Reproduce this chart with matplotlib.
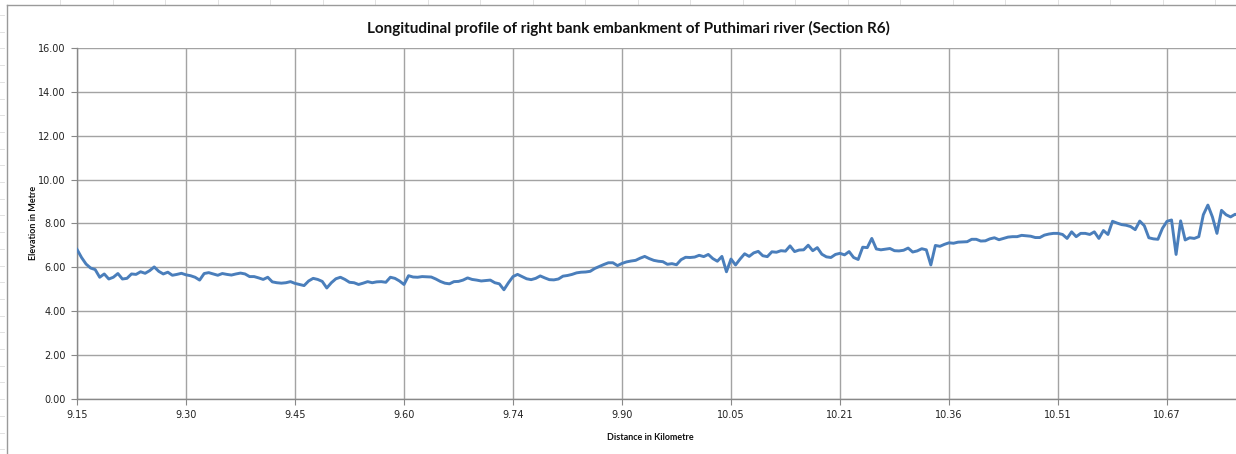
import matplotlib
matplotlib.use("Agg")
import matplotlib.pyplot as plt
from matplotlib.lines import Line2D
import numpy as np

# Elevation (m) along the right bank embankment, Section R6, at equal chainage steps
elevation = [
    6.82, 6.45, 6.15, 5.97, 5.90, 5.55, 5.70, 5.47, 5.55, 5.72,
    5.47, 5.50, 5.70, 5.68, 5.80, 5.73, 5.85, 6.02, 5.82, 5.70,
    5.78, 5.64, 5.68, 5.73, 5.66, 5.62, 5.55, 5.42, 5.72, 5.76,
    5.70, 5.64, 5.72, 5.68, 5.65, 5.70, 5.74, 5.70, 5.58, 5.58,
    5.52, 5.45, 5.55, 5.34, 5.30, 5.28, 5.30, 5.35, 5.27, 5.22,
    5.17, 5.38, 5.50, 5.45, 5.36, 5.06, 5.30, 5.48, 5.55, 5.45,
    5.32, 5.30, 5.22, 5.28, 5.35, 5.30, 5.34, 5.35, 5.32, 5.55,
    5.50, 5.38, 5.22, 5.62, 5.56, 5.55, 5.58, 5.57, 5.56, 5.47,
    5.36, 5.28, 5.25, 5.35, 5.36, 5.42, 5.52, 5.45, 5.42, 5.38,
    5.40, 5.42, 5.30, 5.25, 4.98, 5.30, 5.58, 5.68, 5.58, 5.48,
    5.44, 5.50, 5.61, 5.52, 5.44, 5.43, 5.47, 5.60, 5.63, 5.68,
    5.75, 5.78, 5.79, 5.82, 5.95, 6.04, 6.13, 6.21, 6.21, 6.08,
    6.18, 6.25, 6.29, 6.32, 6.42, 6.50, 6.40, 6.32, 6.28, 6.26,
    6.14, 6.17, 6.12, 6.35, 6.46, 6.45, 6.47, 6.55, 6.49, 6.59,
    6.40, 6.28, 6.50, 5.80, 6.38, 6.11, 6.38, 6.62, 6.50, 6.66,
    6.73, 6.53, 6.49, 6.71, 6.69, 6.76, 6.74, 6.98, 6.72, 6.79,
    6.80, 7.01, 6.76, 6.90, 6.60, 6.48, 6.45, 6.59, 6.64, 6.57,
    6.72, 6.45, 6.36, 6.92, 6.90, 7.32, 6.84, 6.80, 6.83, 6.86,
    6.76, 6.75, 6.78, 6.88, 6.70, 6.75, 6.85, 6.80, 6.11, 7.00,
    6.96, 7.05, 7.12, 7.10, 7.15, 7.16, 7.17, 7.28, 7.28, 7.20,
    7.21, 7.30, 7.35, 7.26, 7.32, 7.38, 7.40, 7.40, 7.46, 7.44,
    7.42, 7.36, 7.36, 7.47, 7.52, 7.55, 7.55, 7.50, 7.32, 7.62,
    7.40, 7.55, 7.55, 7.50, 7.62, 7.32, 7.68, 7.50, 8.10, 8.02,
    7.95, 7.92, 7.86, 7.72, 8.11, 7.90, 7.35, 7.30, 7.28, 7.78,
    8.10, 8.16, 6.59, 8.12, 7.25, 7.35, 7.32, 7.40, 8.40, 8.84,
    8.30, 7.55, 8.60, 8.40, 8.30, 8.42, 8.35,
]

# Category axis labels (km), one every `label_step` points
distance_labels = ["9.15", "9.30", "9.45", "9.60", "9.74", "9.90",
                   "10.05", "10.21", "10.36", "10.51", "10.67"]
label_step = 24

y_ticks = [0, 2, 4, 6, 8, 10, 12, 14, 16]

W, H = 1236, 454
fig = plt.figure(figsize=(W / 100, H / 100), dpi=100)
fig.patch.set_facecolor("white")

# Faint worksheet cell lines around the chart object
for k in range(24):
    xpx = 60 + 52.5 * k
    fig.add_artist(Line2D([xpx / W, xpx / W], [1.0, 1 - 4 / H],
                          color="#E2E2E2", lw=0.7, transform=fig.transFigure))
for k in range(28):
    ypx = 15 + 16.7 * k
    fig.add_artist(Line2D([0, 4 / W], [1 - ypx / H, 1 - ypx / H],
                          color="#E2E2E2", lw=0.7, transform=fig.transFigure))
# Chart area border
fig.add_artist(Line2D([7 / W, 7 / W], [0, 1 - 5 / H], color="#9A9A9A", lw=1.0,
                      transform=fig.transFigure))
fig.add_artist(Line2D([7 / W, 1.0], [1 - 5 / H, 1 - 5 / H], color="#9A9A9A", lw=1.0,
                      transform=fig.transFigure))

# Plot area: one category step = 4.54 px, the area runs past the right edge
step_px = 109 / label_step
x0_px, top_px, bot_px = 77, 48, 399
n_span = 264
ax = fig.add_axes([x0_px / W, 1 - bot_px / H,
                   n_span * step_px / W, (bot_px - top_px) / H])

x = np.arange(len(elevation))
ax.plot(x, elevation, color="#4A7EBB", lw=2.1, solid_joinstyle="round", zorder=3)

ax.set_xlim(0, n_span)
ax.set_ylim(0, 16)
ax.set_yticks(y_ticks)
ax.set_yticklabels([f"{v:.2f}" for v in y_ticks])
ax.set_xticks(np.arange(len(distance_labels)) * label_step)
ax.set_xticklabels(distance_labels)

ax.grid(True, color="#A3A3A3", lw=1.0, zorder=0)
ax.set_axisbelow(True)
for side in ("top", "right"):
    ax.spines[side].set_visible(False)
for side in ("left", "bottom"):
    ax.spines[side].set_color("#888888")
    ax.spines[side].set_linewidth(1.0)

ax.tick_params(axis="both", direction="out", length=4, color="#888888",
               labelsize=7, labelcolor="#222222")
ax.tick_params(axis="y", pad=4)
ax.tick_params(axis="x", pad=4)

fig.text(628 / W, 1 - 28 / H,
         "Longitudinal profile of right bank embankment of Puthimari river (Section R6)",
         ha="center", va="center", fontsize=11, fontweight="bold",
         family="Lato", color="#111111")
fig.text(650 / W, 1 - 438 / H, "Distance in Kilometre", ha="center", va="center",
         fontsize=6.5, fontweight="bold", family="Lato", color="#111111")
fig.text(33 / W, 1 - 223 / H, "Elevation in Metre", ha="center", va="center",
         rotation=90, fontsize=6.5, fontweight="bold", family="Lato", color="#111111")

fig.savefig("out.png", dpi=100, facecolor="white")
